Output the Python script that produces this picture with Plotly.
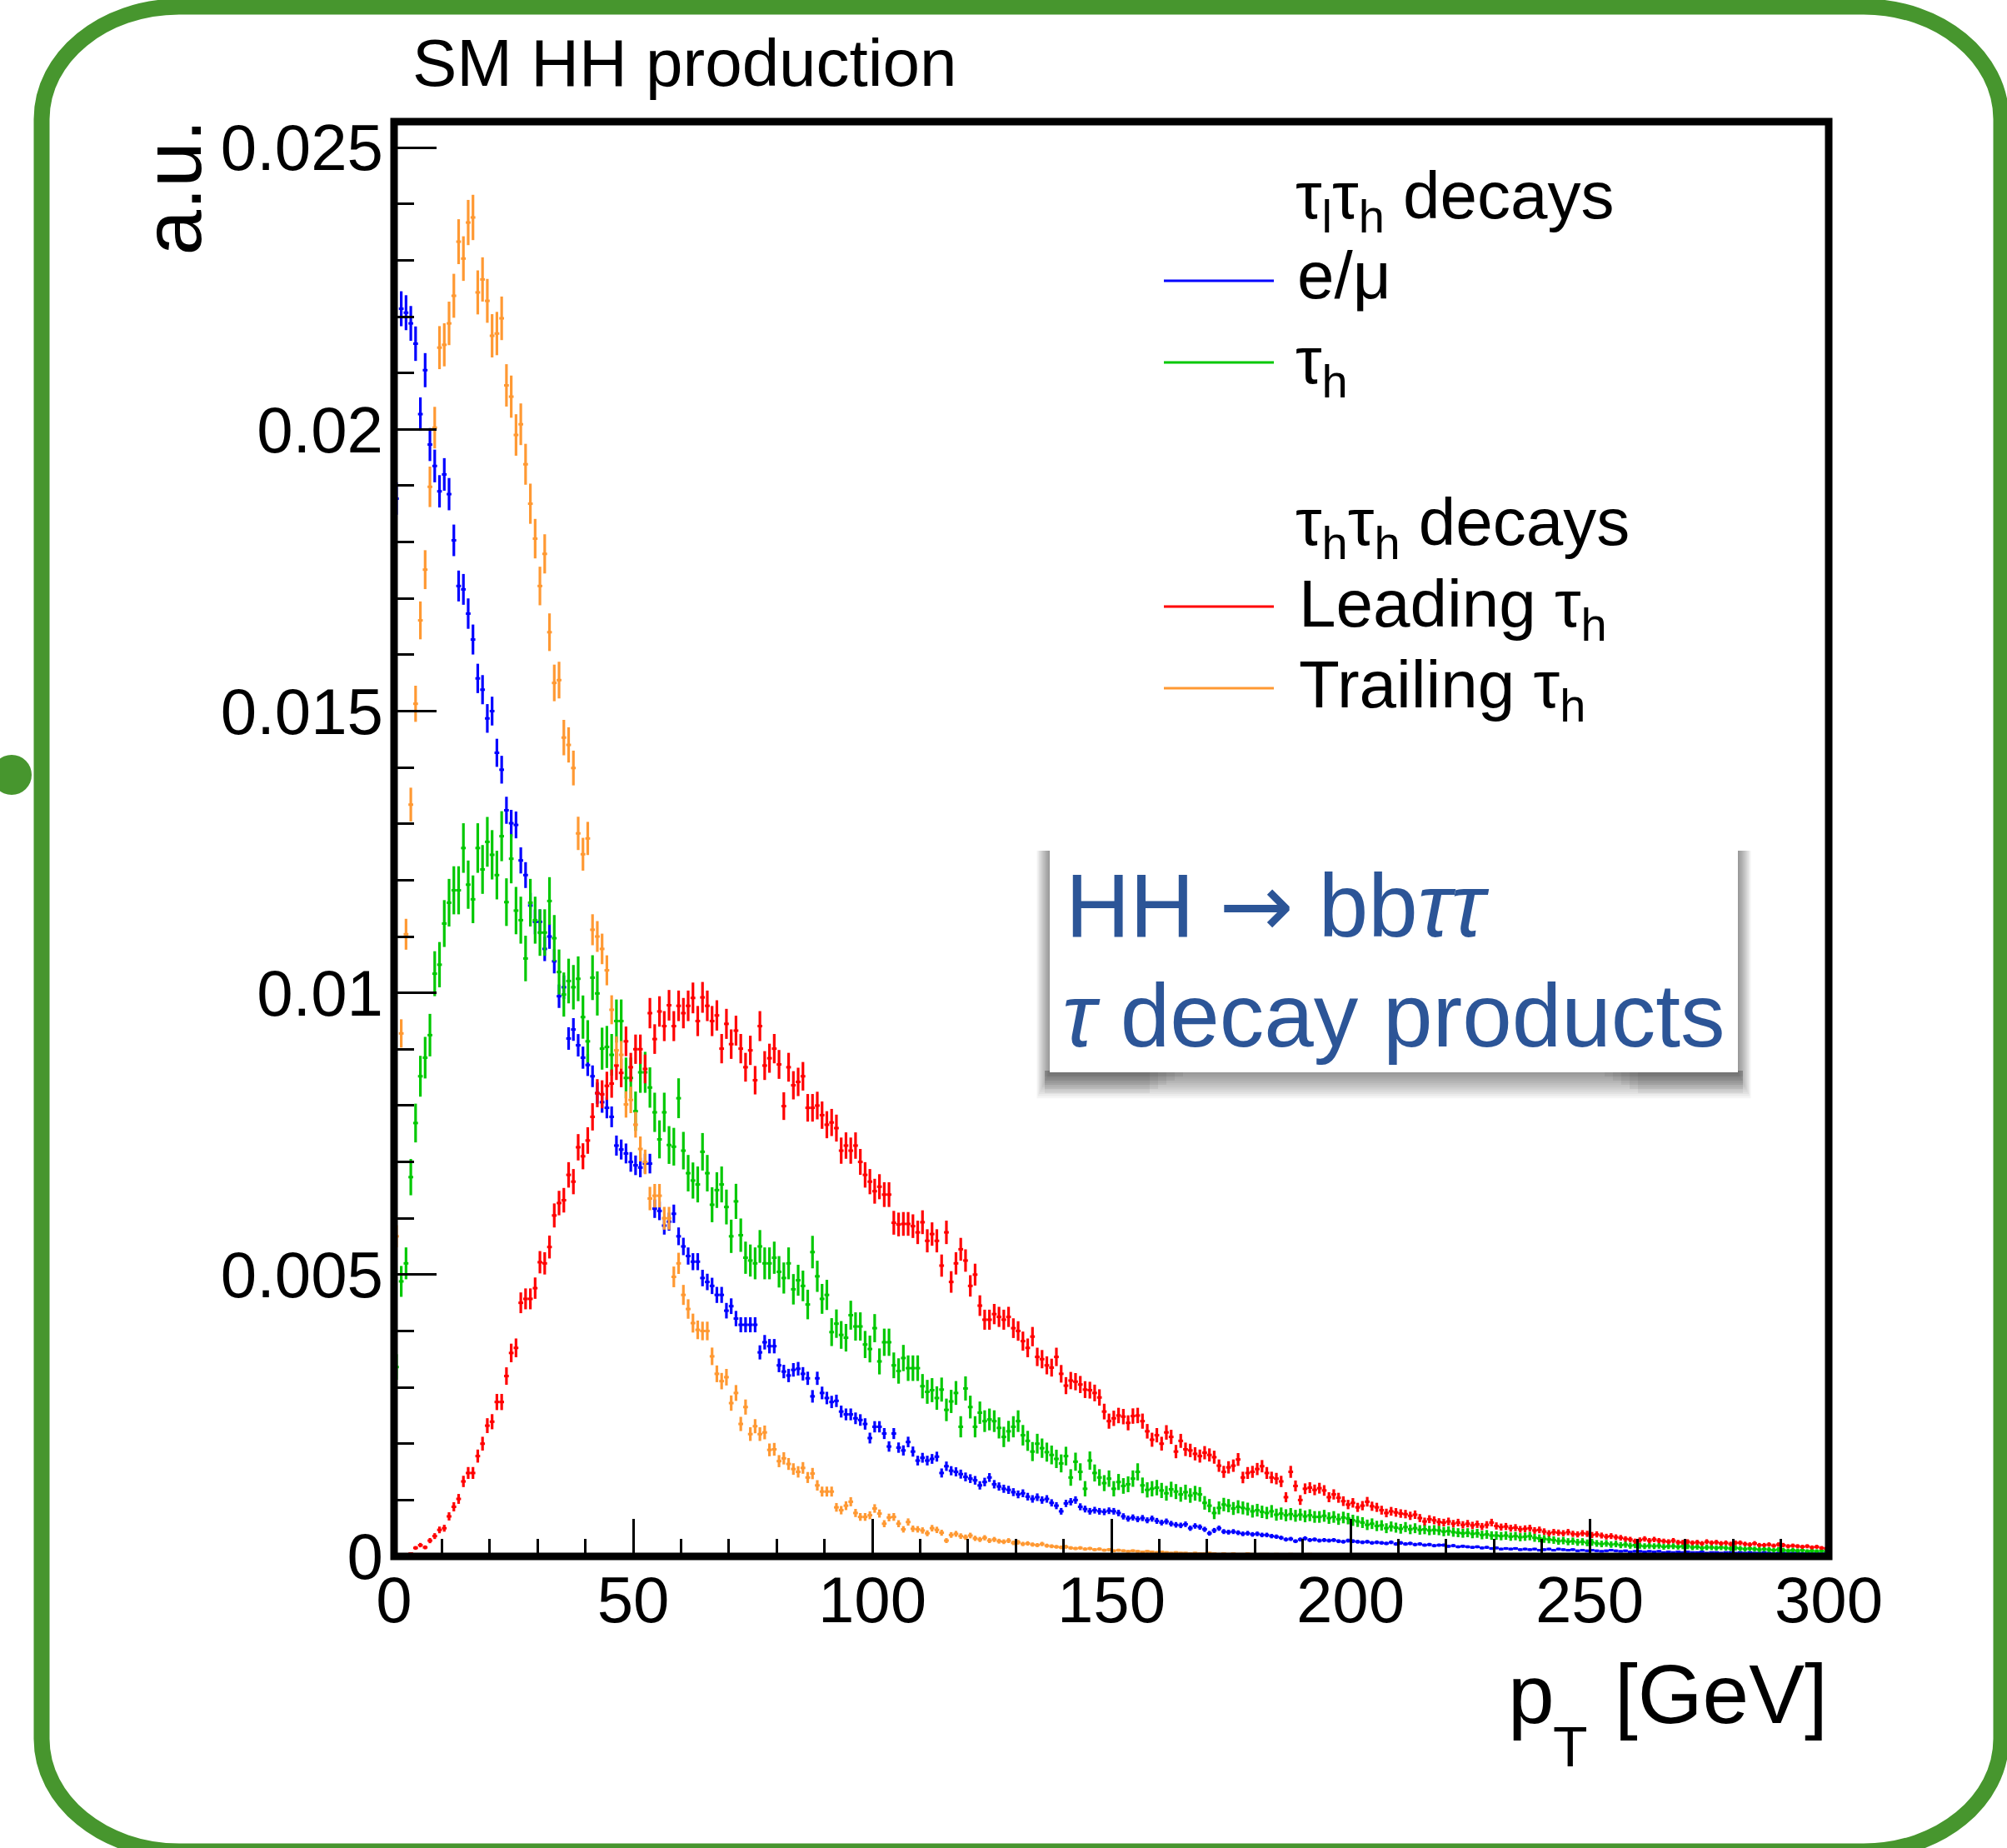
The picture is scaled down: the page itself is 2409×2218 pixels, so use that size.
import numpy as np
import plotly.graph_objects as go

# ---------------- data (bin contents in units of 1e-5, 1 GeV bins from 0 to 300 GeV) -------------
bin_width_gev = 1.0
n_bins = 300
pt_centers = [i * bin_width_gev + 0.5 * bin_width_gev for i in range(n_bins)]

emu_x1e5 = [
    1877, 2214, 2207, 2188, 2152, 2027, 2105, 1973, 1935, 1890, 1920, 1885, 1803, 1722, 1716, 1673, 1627, 1558, 1538, 1487,
    1500, 1426, 1396, 1324, 1301, 1298, 1235, 1209, 1155, 1126, 1126, 1078, 1100, 1056, 994, 1010, 919, 935, 907, 885,
    872, 852, 822, 806, 796, 780, 729, 722, 715, 700, 694, 690, 697, 697, 617, 613, 587, 594, 608, 568,
    550, 533, 523, 523, 494, 487, 480, 464, 464, 436, 444, 422, 411, 411, 411, 411, 362, 380, 373, 373,
    339, 328, 321, 331, 333, 324, 316, 284, 316, 290, 281, 274, 276, 257, 252, 252, 245, 242, 235, 210,
    230, 230, 218, 195, 218, 193, 188, 203, 186, 170, 175, 170, 173, 177, 148, 160, 152, 150, 146, 141,
    138, 135, 126, 132, 140, 128, 124, 120, 118, 114, 110, 112, 106, 102, 105, 100, 102, 95, 90, 80,
    94, 97, 100, 88, 84, 80, 82, 80, 79, 81, 80, 77, 71, 67, 69, 66, 68, 64, 67, 63,
    60, 62, 58, 56, 55, 57, 50, 54, 52, 48, 41, 46, 50, 44, 43, 44, 42, 40, 41, 39,
    40, 38, 38, 36, 35, 33, 30, 31, 27, 30, 32, 29, 30, 28, 29, 28, 29, 27, 26, 28,
    27, 26, 25, 26, 24, 25, 24, 23, 25, 22, 24, 22, 23, 21, 22, 20, 21, 19, 20, 20,
    18, 19, 17, 18, 17, 16, 17, 15, 16, 14, 15, 13, 14, 13, 14, 12, 13, 12, 13, 11,
    12, 13, 11, 13, 12, 11, 12, 10, 11, 10, 11, 10, 9, 10, 11, 10, 9, 10, 8, 9,
    9, 8, 9, 8, 9, 7, 8, 7, 8, 7, 8, 7, 7, 8, 6, 7, 7, 6, 7, 7,
    6, 7, 6, 7, 6, 6, 7, 6, 5, 6, 6, 5, 6, 6, 5, 6, 5, 6, 5, 6,
]

tauh_lh_x1e5 = [
    336, 488, 520, 673, 769, 852, 885, 925, 1034, 1050, 1123, 1160, 1182, 1182, 1257, 1192, 1166, 1257, 1219, 1268,
    1245, 1209, 1278, 1161, 1238, 1146, 1129, 1061, 1160, 1129, 1107, 1107, 1163, 1097, 1037, 997, 1021, 1010, 1025, 957,
    914, 1027, 999, 901, 904, 890, 950, 950, 849, 849, 790, 859, 859, 832, 788, 740, 788, 730, 727, 813,
    720, 680, 667, 660, 718, 680, 624, 650, 660, 620, 568, 630, 570, 530, 525, 520, 550, 520, 520, 530,
    505, 494, 520, 474, 490, 480, 447, 540, 497, 457, 464, 398, 413, 393, 388, 428, 408, 408, 376, 368,
    405, 346, 380, 380, 339, 329, 352, 334, 334, 334, 302, 292, 295, 281, 296, 260, 275, 290, 230, 298,
    265, 230, 255, 240, 243, 240, 228, 212, 222, 230, 240, 215, 205, 186, 200, 192, 185, 180, 173, 165,
    178, 140, 168, 150, 120, 170, 148, 140, 130, 138, 120, 132, 125, 128, 138, 150, 126, 118, 120, 122,
    117, 112, 119, 115, 110, 114, 108, 112, 110, 95, 90, 77, 86, 92, 90, 85, 88, 86, 84, 80,
    82, 79, 77, 80, 74, 76, 73, 75, 72, 74, 71, 73, 70, 70, 72, 68, 70, 66, 69, 67,
    64, 62, 60, 56, 58, 54, 55, 50, 53, 51, 49, 52, 48, 50, 47, 48, 46, 47, 46, 44,
    45, 43, 42, 41, 42, 40, 41, 38, 39, 37, 37, 36, 37, 35, 36, 34, 35, 36, 33, 32,
    31, 30, 29, 27, 28, 26, 27, 25, 26, 24, 25, 23, 22, 23, 21, 22, 20, 21, 19, 20,
    19, 18, 19, 18, 19, 17, 18, 18, 17, 18, 18, 16, 17, 15, 16, 16, 15, 16, 15, 14,
    15, 14, 13, 14, 13, 12, 13, 12, 11, 12, 11, 10, 11, 10, 11, 9, 10, 9, 10, 9,
]

leading_x1e5 = [
    0, 1, 2, 5, 15, 20, 16, 28, 36, 47, 50, 71, 88, 102, 133, 148, 148, 178, 200, 232,
    239, 274, 274, 320, 361, 370, 450, 457, 457, 476, 522, 520, 549, 605, 627, 632, 677, 665, 726, 710,
    738, 780, 822, 820, 835, 839, 871, 858, 914, 868, 900, 900, 865, 964, 918, 967, 941, 978, 941, 977,
    964, 977, 991, 950, 992, 977, 950, 960, 901, 945, 909, 933, 901, 868, 898, 845, 941, 871, 884, 901,
    873, 799, 868, 836, 842, 852, 796, 796, 800, 783, 766, 770, 760, 720, 729, 720, 729, 700, 677, 665,
    648, 656, 642, 642, 592, 589, 590, 590, 586, 575, 593, 560, 572, 560, 516, 575, 487, 520, 545, 525,
    480, 500, 445, 420, 420, 430, 425, 420, 425, 405, 400, 382, 370, 390, 354, 350, 339, 335, 354, 324,
    303, 312, 310, 305, 296, 295, 290, 282, 257, 240, 245, 250, 248, 237, 249, 250, 240, 222, 207, 215,
    200, 220, 212, 186, 205, 190, 188, 182, 178, 184, 180, 176, 161, 150, 158, 161, 172, 140, 148, 150,
    155, 160, 148, 140, 138, 133, 105, 150, 125, 100, 120, 122, 118, 121, 117, 105, 110, 104, 98, 92,
    95, 87, 90, 97, 89, 87, 82, 77, 80, 78, 76, 75, 72, 74, 68, 62, 66, 64, 61, 60,
    62, 58, 60, 56, 58, 55, 57, 53, 56, 60, 54, 52, 53, 50, 51, 48, 49, 50, 46, 47,
    44, 41, 43, 42, 41, 43, 40, 39, 41, 40, 38, 39, 37, 35, 36, 34, 33, 31, 30, 27,
    29, 31, 28, 30, 28, 27, 26, 28, 25, 25, 26, 24, 25, 23, 26, 24, 25, 23, 24, 22,
    24, 24, 22, 21, 23, 20, 20, 21, 19, 21, 20, 18, 19, 18, 17, 18, 16, 17, 15, 14,
]

trailing_x1e5 = [
    568, 928, 1104, 1334, 1513, 1661, 1751, 1898, 2003, 2145, 2150, 2188, 2237, 2333, 2303, 2367, 2376, 2243, 2266, 2228,
    2166, 2170, 2197, 2078, 2058, 1990, 2009, 1938, 1868, 1806, 1722, 1779, 1640, 1550, 1555, 1453, 1440, 1399, 1283, 1246,
    1274, 1112, 1100, 1078, 1040, 970, 898, 890, 802, 810, 766, 723, 700, 635, 640, 640, 600, 600, 496, 520,
    464, 439, 414, 402, 400, 400, 355, 324, 311, 318, 272, 290, 235, 265, 217, 231, 217, 220, 189, 190,
    169, 174, 164, 155, 150, 157, 140, 147, 126, 115, 115, 115, 87, 82, 90, 97, 77, 70, 70, 73,
    85, 76, 58, 69, 70, 58, 48, 61, 49, 48, 46, 41, 50, 47, 42, 28, 38, 40, 36, 34,
    37, 32, 30, 33, 28, 30, 27, 26, 28, 24, 25, 22, 23, 21, 20, 22, 19, 18, 17, 16,
    17, 15, 14, 15, 13, 14, 12, 13, 11, 12, 10, 11, 10, 9, 10, 9, 8, 9, 8, 7,
    8, 7, 6, 7, 6, 6, 5, 6, 5, 5, 6, 5, 4, 5, 4, 5, 4, 4, 5, 4,
    3, 4, 4, 3, 4, 3, 3, 4, 3, 3, 3, 4, 3, 3, 2, 3, 3, 3, 2, 3,
    3, 2, 3, 2, 3, 2, 2, 3, 2, 2, 3, 2, 2, 2, 3, 2, 2, 2, 2, 3,
    2, 2, 2, 2, 2, 3, 2, 2, 2, 1, 2, 2, 2, 2, 1, 2, 2, 2, 1, 2,
    2, 1, 2, 2, 1, 2, 2, 1, 2, 2, 1, 2, 1, 2, 2, 1, 1, 2, 1, 2,
    1, 1, 2, 1, 1, 1, 2, 1, 1, 1, 2, 1, 1, 1, 1, 2, 1, 1, 1, 1,
    1, 1, 1, 2, 1, 1, 1, 1, 1, 1, 1, 2, 1, 1, 1, 1, 1, 1, 1, 1,
]

# effective number of MC events per histogram (sets the statistical error bars)
n_events = {"emu": 230000, "tauh": 65000, "lead": 133000, "trail": 147000}

series = [
    ("e/μ", emu_x1e5, "emu", "#0000ff"),
    ("τh", tauh_lh_x1e5, "tauh", "#00c800"),
    ("Leading τh", leading_x1e5, "lead", "#ff0000"),
    ("Trailing τh", trailing_x1e5, "trail", "#ff9933"),
]

x_ticks = [0, 50, 100, 150, 200, 250, 300]
y_ticks = [0, 0.005, 0.01, 0.015, 0.02, 0.025]
y_ticktext = ["0", "0.005", "0.01", "0.015", "0.02", "0.025"]

# ---------------- geometry helpers (pixel -> paper) ----------------
W, H = 2409, 2218
L, R, T, B = 473, 2195, 146, 1868


def px(x):
    return (x - L) / (R - L)


def py(y):
    return (B - y) / (B - T)


FONT = "Liberation Sans, Arial, Helvetica, sans-serif"

fig = go.Figure()

for name, vals, key, col in series:
    y = np.array(vals, dtype=float) * 1e-5
    err = np.sqrt(y / n_events[key])
    fig.add_trace(go.Scatter(
        x=pt_centers, y=y, mode="markers", name=name,
        marker=dict(size=2, color=col),
        error_y=dict(type="data", array=err, visible=True, thickness=3.2, width=0, color=col),
        error_x=dict(type="constant", value=0.5 * bin_width_gev, visible=True, thickness=3.0, width=0, color=col),
        showlegend=False, hoverinfo="skip",
    ))

shapes = []

# plot frame
shapes.append(dict(type="rect", xref="paper", yref="paper", x0=0, x1=1, y0=0, y1=1,
                   line=dict(color="black", width=9), fillcolor="rgba(0,0,0,0)", layer="above"))

# rounded green frame
x0, y0, x1, y1 = 50, 8, 2402, 2222
rx, ry = 165, 135
k = 0.5523


def P(x, y):
    return f"{px(x):.6f},{py(y):.6f}"


path = (
    f"M {P(x0 + rx, y0)} L {P(x1 - rx, y0)} "
    f"C {P(x1 - rx + k * rx, y0)} {P(x1, y0 + ry - k * ry)} {P(x1, y0 + ry)} "
    f"L {P(x1, y1 - ry)} "
    f"C {P(x1, y1 - ry + k * ry)} {P(x1 - rx + k * rx, y1)} {P(x1 - rx, y1)} "
    f"L {P(x0 + rx, y1)} "
    f"C {P(x0 + rx - k * rx, y1)} {P(x0, y1 - ry + k * ry)} {P(x0, y1 - ry)} "
    f"L {P(x0, y0 + ry)} "
    f"C {P(x0, y0 + ry - k * ry)} {P(x0 + rx - k * rx, y0)} {P(x0 + rx, y0)} Z"
)
shapes.append(dict(type="path", path=path, xref="paper", yref="paper",
                   line=dict(color="#47962e", width=19), fillcolor="rgba(0,0,0,0)", layer="above"))
# small green dot on the left edge
shapes.append(dict(type="circle", xref="paper", yref="paper",
                   x0=px(-10), x1=px(38), y0=py(954), y1=py(906),
                   fillcolor="#47962e", line=dict(color="#47962e", width=0), layer="above"))

# legend lines
for ypix, col in [(337, "#0000ff"), (435, "#00c800"), (728, "#ff0000"), (826, "#ff9933")]:
    shapes.append(dict(type="line", xref="paper", yref="paper",
                       x0=px(1397), x1=px(1529), y0=py(ypix), y1=py(ypix),
                       line=dict(color=col, width=3), layer="above"))

# soft-shadowed white label box
bx0, bx1, by0, by1 = 1260, 2086, 1009, 1287
for i in range(1, 13):
    shapes.append(dict(type="rect", xref="paper", yref="paper",
                       x0=px(bx0 - 1.3 * i), x1=px(bx1 + 1.3 * i), y0=py(by0 + 12), y1=py(by1 + 2.6 * i),
                       fillcolor="rgba(0,0,0,0.038)", line=dict(width=0), layer="above"))
# darker curled corners of the shadow
for cx0, cx1 in [(bx0 - 6, bx0 + 170), (bx1 - 170, bx1 + 6)]:
    for i in range(1, 6):
        shapes.append(dict(type="rect", xref="paper", yref="paper",
                           x0=px(cx0 + (0 if cx0 < bx0 else 10 * i)), x1=px(cx1 - (10 * i if cx0 < bx0 else 0)),
                           y0=py(by1 - 2), y1=py(by1 + 5 * i),
                           fillcolor="rgba(0,0,0,0.05)", line=dict(width=0), layer="above"))
shapes.append(dict(type="rect", xref="paper", yref="paper",
                   x0=px(bx0), x1=px(bx1), y0=py(by0), y1=py(by1),
                   fillcolor="white", line=dict(width=0), layer="above"))

annotations = []


def ann(text, xpix, ypix, size, xanchor="left", yanchor="middle", color="black", angle=0):
    annotations.append(dict(text=text, x=px(xpix), y=py(ypix), xref="paper", yref="paper",
                            xanchor=xanchor, yanchor=yanchor, showarrow=False, textangle=angle,
                            font=dict(family=FONT, size=size, color=color)))


ann("SM HH production", 493, 76, 80)
ann("a.u.", 206, 142, 98, xanchor="center", yanchor="top", angle=-90)
# x-axis title: p_T [GeV]
ann("p", 1808, 2033, 100)
ann("T", 1862, 2096, 68)
ann("[GeV]", 2196, 2033, 100, xanchor="right")

ann("τ<sub>l</sub>τ<sub>h</sub> decays", 1553, 240, 80)
ann("e/μ", 1555, 330, 80)
ann("τ<sub>h</sub>", 1553, 438, 80)
ann("τ<sub>h</sub>τ<sub>h</sub> decays", 1553, 632, 80)
ann("Leading τ<sub>h</sub>", 1557, 730, 80)
ann("Trailing τ<sub>h</sub>", 1557, 828, 80)

BOXBLUE = "#2c5597"
ann("HH <span style=\"font-family:'DejaVu Sans'\">→</span> bb<i>ττ</i>", 1277, 1087, 107, color=BOXBLUE)
ann("<i>τ</i> decay products", 1273, 1219, 107, color=BOXBLUE)

fig.update_layout(
    width=W, height=H,
    margin=dict(l=L, r=W - R, t=T, b=H - B, pad=0),
    paper_bgcolor="white", plot_bgcolor="white",
    font=dict(family=FONT, color="black"),
    shapes=shapes, annotations=annotations,
    showlegend=False,
)
fig.update_xaxes(
    range=[0, 300], tickmode="array", tickvals=x_ticks, ticktext=[str(v) for v in x_ticks],
    showgrid=False, zeroline=False, showline=False,
    ticks="inside", ticklen=45, tickwidth=3, tickcolor="black",
    tickfont=dict(size=78, family=FONT), ticklabelstandoff=0,
    minor=dict(ticks="inside", ticklen=21, tickwidth=3, tickcolor="black", dtick=10, tick0=0, showgrid=False),
)
fig.update_yaxes(
    range=[0, 0.02546], tickmode="array", tickvals=y_ticks, ticktext=y_ticktext,
    showgrid=False, zeroline=False, showline=False,
    ticks="inside", ticklen=51, tickwidth=3, tickcolor="black",
    tickfont=dict(size=78, family=FONT), ticklabelstandoff=12,
    minor=dict(ticks="inside", ticklen=24, tickwidth=3, tickcolor="black", dtick=0.001, tick0=0, showgrid=False),
)

fig.write_html("out.html")
